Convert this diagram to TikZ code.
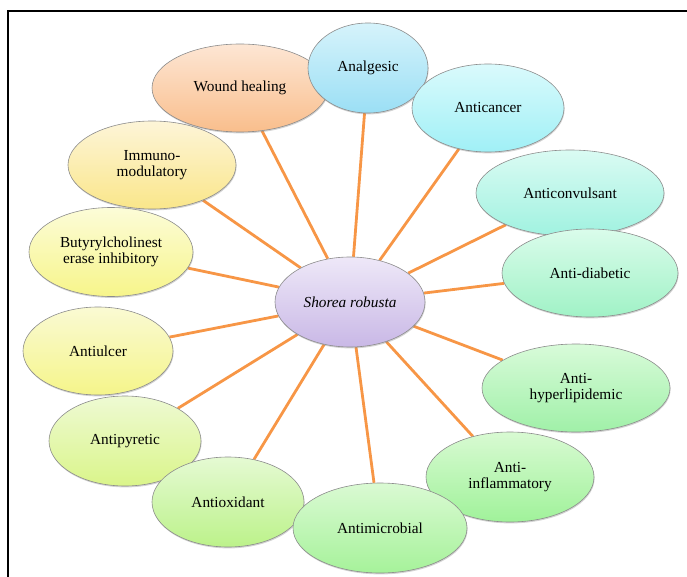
\documentclass[tikz,border=0pt]{standalone}
\usepackage{fontspec}
\setmainfont{Liberation Serif}
\usepackage{tikz}
\usetikzlibrary{
	shapes.geometric,
	shadows,
	backgrounds
}
\definecolor{SpokeOrange}{RGB}{247,150,70}
\definecolor{PeachT}{RGB}{253,230,212}\definecolor{PeachB}{RGB}{249,190,140}
\definecolor{BlueT}{RGB}{214,243,251}\definecolor{BlueB}{RGB}{155,223,245}
\definecolor{CyanT}{RGB}{218,250,252}\definecolor{CyanB}{RGB}{160,240,246}
\definecolor{AquaT}{RGB}{218,251,243}\definecolor{AquaB}{RGB}{160,242,224}
\definecolor{MintT}{RGB}{218,252,235}\definecolor{MintB}{RGB}{160,242,198}
\definecolor{LGreenT}{RGB}{216,251,217}\definecolor{LGreenB}{RGB}{160,240,168}
\definecolor{GreenT}{RGB}{216,250,210}\definecolor{GreenB}{RGB}{160,242,154}
\definecolor{GreenT2}{RGB}{218,250,211}\definecolor{GreenB2}{RGB}{166,242,154}
\definecolor{LimeT}{RGB}{229,250,211}\definecolor{LimeB}{RGB}{188,242,138}
\definecolor{YGreenT}{RGB}{238,250,211}\definecolor{YGreenB}{RGB}{218,245,138}
\definecolor{YellowT}{RGB}{250,250,211}\definecolor{YellowB}{RGB}{245,245,138}
\definecolor{YellowT2}{RGB}{252,252,216}\definecolor{YellowB2}{RGB}{247,245,138}
\definecolor{GoldT}{RGB}{253,245,216}\definecolor{GoldB}{RGB}{250,230,138}
\definecolor{LavT}{RGB}{238,232,248}\definecolor{LavB}{RGB}{201,184,230}

\begin{document}
\begin{tikzpicture}[x=1pt, y=-1pt,
		bubble/.style 2 args={ellipse, draw=black!45, line width=0.6pt, inner sep=0pt, align=center,
			top color=#1, bottom color=#2,
			font=\fontsize{15.3}{16}\selectfont,
			drop shadow={shadow xshift=0.6pt, shadow yshift=-1.4pt, opacity=0.35}},
		spoke/.style={draw=SpokeOrange, line width=2.8pt}]
		\useasboundingbox (0,0) rectangle (687,577);
		
		% 外框 (只有上边和左边)
		\draw[line width=1.3pt] (8,577) -- (8,11) -- (687,11);
		
		% 左侧一圈
		\node[bubble={PeachT}{PeachB}, minimum width=176pt, minimum height=88pt] (wound) at (240,88) {Wound healing};
		\node[bubble={GoldT}{GoldB}, minimum width=168pt, minimum height=88pt] (immuno) at (152,165) {Immuno-\\modulatory};
		\node[bubble={YellowT2}{YellowB2}, minimum width=164pt, minimum height=89pt] (butyr) at (111,252) {Butyrylcholinest\\erase inhibitory};
		\node[bubble={YellowT}{YellowB}, minimum width=150pt, minimum height=88pt] (ulcer) at (98,351) {Antiulcer};
		\node[bubble={YGreenT}{YGreenB}, minimum width=152pt, minimum height=90pt] (pyret) at (125,441) {Antipyretic};
		\node[bubble={LimeT}{LimeB}, minimum width=152pt, minimum height=90pt] (oxid) at (228,502) {Antioxidant};
		
		% 右侧一圈
		\node[bubble={BlueT}{BlueB}, minimum width=120pt, minimum height=90pt] (analg) at (368,68) {Analgesic};
		\node[bubble={CyanT}{CyanB}, minimum width=152pt, minimum height=88pt] (cancer) at (488,108) {Anticancer};
		\node[bubble={AquaT}{AquaB}, minimum width=188pt, minimum height=86pt] (convul) at (570,193) {Anticonvulsant};
		\node[bubble={MintT}{MintB}, minimum width=176pt, minimum height=88pt] (diab) at (590,273) {Anti-diabetic};
		\node[bubble={LGreenT}{LGreenB}, minimum width=188pt, minimum height=88pt] (hyper) at (576,388) {Anti-\\hyperlipidemic};
		\node[bubble={GreenT}{GreenB}, minimum width=168pt, minimum height=90pt] (inflam) at (510,477) {Anti-\\inflammatory};
		\node[bubble={GreenT2}{GreenB2}, minimum width=174pt, minimum height=90pt] (micro) at (380,528) {Antimicrobial};
		
		% 中心
		\node[bubble={LavT}{LavB}, minimum width=150pt, minimum height=90pt] (plant) at (350,302) {\itshape Shorea robusta};
		
		% 连线放在底层
		\begin{scope}[on background layer]
			\foreach \n in {wound,immuno,butyr,ulcer,pyret,oxid,analg,cancer,convul,diab,hyper,inflam,micro}
				\draw[spoke] (plant) -- (\n);
		\end{scope}
\end{tikzpicture}
\end{document}
